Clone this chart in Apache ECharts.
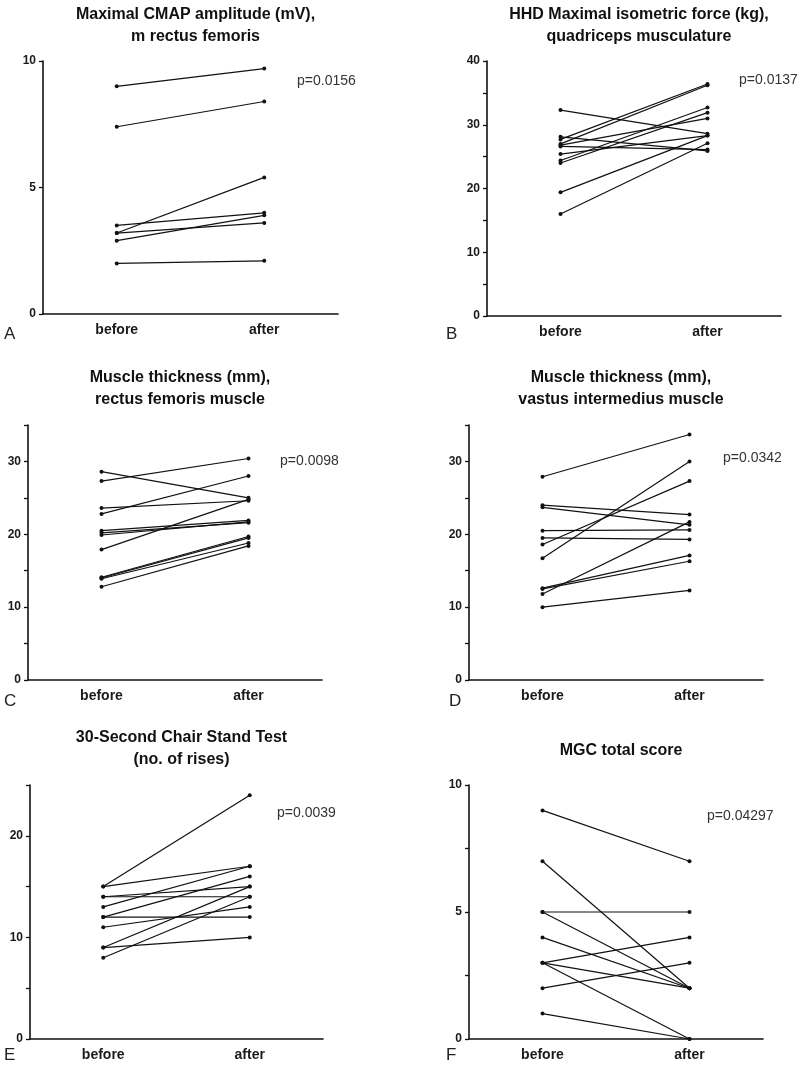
<!DOCTYPE html>
<html>
<head>
<meta charset="utf-8">
<script src="https://cdn.jsdelivr.net/npm/echarts@6/dist/echarts.min.js"></script>
<style>
html,body{margin:0;padding:0;background:#fff;}
#chart{width:800px;height:1067px;}
</style>
</head>
<body>
<div id="chart"></div>
<script>
// ---- data ----
const categories = ['before', 'after'];

const titleA = 'Maximal CMAP amplitude (mV),\nm rectus femoris';
const titleB = 'HHD Maximal isometric force (kg),\nquadriceps musculature';
const titleC = 'Muscle thickness (mm),\nrectus femoris muscle';
const titleD = 'Muscle thickness (mm),\nvastus intermedius muscle';
const titleE = '30-Second Chair Stand Test\n(no. of rises)';
const titleF = 'MGC total score';

const pValues = ['p=0.0156', 'p=0.0137', 'p=0.0098', 'p=0.0342', 'p=0.0039', 'p=0.04297'];
const panelLetters = ['A', 'B', 'C', 'D', 'E', 'F'];

const A_before = [9.0, 7.4, 3.5, 3.2, 3.2, 2.9, 2.0];
const A_after  = [9.7, 8.4, 4.0, 5.4, 3.6, 3.9, 2.1];

const B_before = [32.3, 28.1, 27.7, 27.0, 26.8, 26.6, 25.4, 24.4, 24.0, 19.4, 16.0];
const B_after  = [28.6, 25.9, 36.4, 36.2, 31.0, 26.1, 28.3, 32.7, 31.9, 28.3, 27.1];

const C_before = [28.6, 27.3, 23.6, 22.8, 20.5, 20.2, 19.9, 17.9, 14.1, 14.0, 13.9, 12.8];
const C_after  = [25.0, 30.4, 24.6, 28.0, 21.9, 21.6, 21.7, 24.8, 19.7, 19.5, 18.8, 18.4];

const D_before = [27.9, 24.0, 23.7, 20.5, 19.5, 18.6, 16.7, 12.6, 12.5, 11.8, 10.0];
const D_after  = [33.7, 22.7, 21.3, 20.6, 19.3, 27.3, 30.0, 17.1, 16.3, 21.7, 12.3];

const E_before = [15, 15, 14, 14, 13, 12, 12, 11, 9, 9, 8];
const E_after  = [24, 17, 14, 15, 17, 16, 12, 13, 15, 10, 14];

const F_before = [9, 7, 5, 5, 4, 3, 3, 3, 2, 1];
const F_after  = [7, 2, 5, 2, 2, 4, 2, 0, 3, 0];

// axis ranges: max, tick interval, label step
const yMax = [10, 40, 35, 35, 25, 10];
const yTickInterval = [5, 5, 5, 5, 5, 2.5];
const yLabelStep = [5, 10, 10, 10, 10, 5];

// ---- layout ----
const panels = [
  {before: A_before, after: A_after, title: titleA, grid: {left: 43, top: 61, width: 295, height: 253}, titleY: -1, p: [297, 82], letter: [4, 335]},
  {before: B_before, after: B_after, title: titleB, grid: {left: 487, top: 61, width: 294, height: 255}, titleY: -1, p: [739, 81], letter: [446, 335]},
  {before: C_before, after: C_after, title: titleC, grid: {left: 28, top: 425, width: 294, height: 255}, titleY: 362, p: [280, 462], letter: [4, 702]},
  {before: D_before, after: D_after, title: titleD, grid: {left: 469, top: 425, width: 294, height: 255}, titleY: 362, p: [723, 459], letter: [449, 702]},
  {before: E_before, after: E_after, title: titleE, grid: {left: 30, top: 785, width: 293, height: 254}, titleY: 722, p: [277, 814], letter: [4, 1056]},
  {before: F_before, after: F_after, title: titleF, grid: {left: 469, top: 785, width: 294, height: 254}, titleY: 735, p: [707, 817], letter: [446, 1056]}
];

const FONT = 'Arial, "Liberation Sans", sans-serif';
const grids = [], xAxes = [], yAxes = [], series = [], titles = [], graphics = [];

panels.forEach((pn, i) => {
  grids.push(Object.assign({containLabel: false}, pn.grid));
  xAxes.push({
    type: 'category', gridIndex: i, data: categories, boundaryGap: true,
    axisLine: {lineStyle: {color: '#111', width: 1.6}},
    axisTick: {alignWithLabel: true, length: 4, lineStyle: {color: '#111', width: 1.3}},
    axisLabel: {color: '#1a1a1a', fontFamily: FONT, fontWeight: 'bold', fontSize: 14, margin: 9},
    splitLine: {show: false}
  });
  const step = yLabelStep[i];
  yAxes.push({
    type: 'value', gridIndex: i, min: 0, max: yMax[i], interval: yTickInterval[i],
    axisLine: {show: true, lineStyle: {color: '#111', width: 1.6}},
    axisTick: {show: true, length: 4, lineStyle: {color: '#111', width: 1.3}},
    axisLabel: {color: '#1a1a1a', fontFamily: FONT, fontWeight: 'bold', fontSize: 12, margin: 7,
      formatter: v => (Math.abs(v / step - Math.round(v / step)) < 1e-6 ? String(v) : '')},
    splitLine: {show: false}
  });
  pn.before.forEach((b, j) => {
    series.push({
      type: 'line', xAxisIndex: i, yAxisIndex: i, data: [b, pn.after[j]],
      symbol: 'circle', symbolSize: 4, clip: false, silent: true,
      lineStyle: {color: '#111', width: 1.2},
      itemStyle: {color: '#111'}
    });
  });
  titles.push({
    text: pn.title, left: pn.grid.left + pn.grid.width / 2, top: pn.titleY, textAlign: 'center',
    textStyle: {fontFamily: FONT, fontWeight: 'bold', fontSize: 16, lineHeight: 22, color: '#111'}
  });
  graphics.push({
    type: 'text', left: pn.p[0], top: pn.p[1] - 8,
    style: {text: pValues[i], font: '14px ' + FONT, fill: '#333'}
  });
  graphics.push({
    type: 'text', left: pn.letter[0], top: pn.letter[1] - 9,
    style: {text: panelLetters[i], font: '17px ' + FONT, fill: '#222'}
  });
});

const chart = echarts.init(document.getElementById('chart'), null, {renderer: 'canvas'});
chart.setOption({
  animation: false,
  backgroundColor: '#fff',
  title: titles,
  grid: grids,
  xAxis: xAxes,
  yAxis: yAxes,
  series: series,
  graphic: graphics
});
</script>
</body>
</html>
